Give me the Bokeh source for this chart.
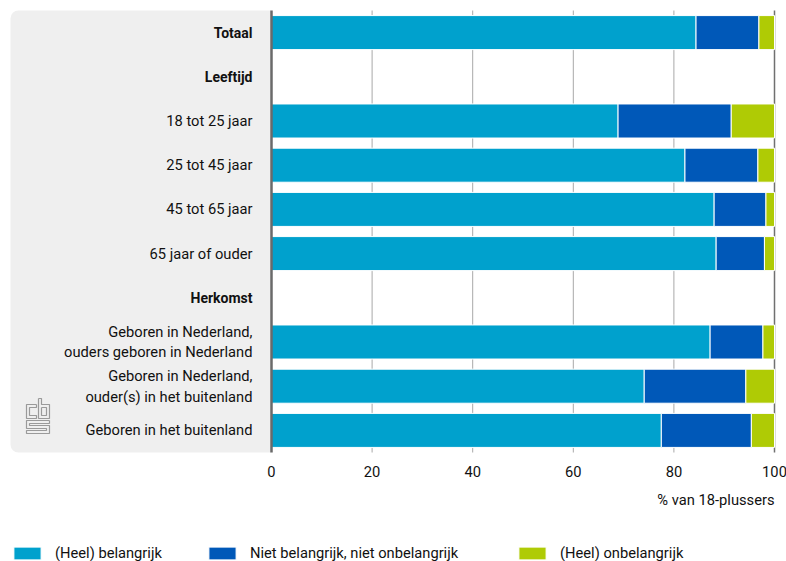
from bokeh.plotting import figure
from bokeh.models import (Range1d, BoxAnnotation, Legend, LegendItem,
                          ColumnDataSource)
from bokeh.core.properties import value
from bokeh.embed import file_html
from bokeh.resources import INLINE

# ---- data ----
categories = ["Totaal", "Leeftijd", "18 tot 25 jaar", "25 tot 45 jaar",
              "45 tot 65 jaar", "65 jaar of ouder", "Herkomst",
              "Geboren in Nederland,\nouders geboren in Nederland",
              "Geboren in Nederland,\nouder(s) in het buitenland",
              "Geboren in het buitenland"]
headings = ["Totaal", "Leeftijd", "Herkomst"]
belangrijk = [84.4, None, 68.9, 82.2, 88.0, 88.4, None, 87.2, 74.1, 77.5]
neutraal = [12.5, None, 22.5, 14.5, 10.3, 9.6, None, 10.5, 20.2, 17.9]
onbelangrijk = [3.1, None, 8.6, 3.3, 1.7, 2.0, None, 2.3, 5.7, 4.6]
series_names = ["(Heel) belangrijk", "Niet belangrijk, niet onbelangrijk",
                "(Heel) onbelangrijk"]
x_ticks = [0, 20, 40, 60, 80, 100]
x_label = "% van 18-plussers"

colors = ["#00a1cd", "#0058b8", "#afcb05"]
FONT = "Roboto"
FS = "14.7px"
TXT = "#111111"

rows = [i for i, v in enumerate(belangrijk) if v is not None]
source = ColumnDataSource(dict(
    y=rows,
    b=[belangrijk[i] for i in rows],
    n=[neutraal[i] for i in rows],
    o=[onbelangrijk[i] for i in rows],
))

# layout geometry (pixels)
W, H = 786, 561
X0_PX, PX_PER_UNIT = 271.0, 5.03        # where 0 % sits, pixels per %
ROW0_PX, ROW_PX = 32.1, 44.2            # centre of first row, row pitch
n_rows = len(categories)

x_start = -X0_PX / PX_PER_UNIT
x_end = (W - X0_PX) / PX_PER_UNIT
y_top = -ROW0_PX / ROW_PX
y_bot = (H - ROW0_PX) / ROW_PX


def px2x(px):
    return (px - X0_PX) / PX_PER_UNIT


def py2y(py):
    return (py - ROW0_PX) / ROW_PX


p = figure(width=W, height=H, output_backend="svg", toolbar_location=None,
           x_range=Range1d(x_start, x_end), y_range=Range1d(y_bot, y_top),
           x_axis_location=None, y_axis_location=None,
           min_border=0, min_border_left=0, min_border_right=0,
           min_border_top=0, min_border_bottom=0)
p.outline_line_color = None
p.background_fill_color = "white"
p.border_fill_color = "white"
p.grid.visible = False

band_top, band_bot = -0.5, n_rows - 0.5

# grey label panel
panel = BoxAnnotation(left=px2x(10), right=0, top=band_top, bottom=band_bot,
                      fill_color="#efefef", fill_alpha=1, line_color=None,
                      level="underlay",
                      border_radius=dict(top_left=8, top_right=0,
                                         bottom_right=0, bottom_left=8))
p.add_layout(panel)

# vertical grid lines (behind bars)
inner = [t for t in x_ticks if 0 < t < x_ticks[-1]]
p.segment(x0=inner, x1=inner, y0=[band_top] * len(inner),
          y1=[band_bot] * len(inner), line_color="#a8a8a8", line_width=1)
p.segment(x0=[x_ticks[-1]], x1=[x_ticks[-1]], y0=[band_top], y1=[band_bot],
          line_color="#707070", line_width=1.5)

renderers = p.hbar_stack(["b", "n", "o"], y="y", height=0.77, source=source,
                         color=colors, line_color="white", line_width=1)

# axis line at 0
p.segment(x0=[x_ticks[0]], x1=[x_ticks[0]], y0=[band_top], y1=[band_bot],
          line_color="#6a6a6a", line_width=2.5)

# category labels
normal_idx = [i for i, c in enumerate(categories) if c not in headings]
bold_idx = [i for i, c in enumerate(categories) if c in headings]
p.text(x=[0] * len(normal_idx), y=normal_idx,
       text=[categories[i] for i in normal_idx], x_offset=-19,
       text_align="right", text_baseline="middle", text_color=TXT,
       text_font=value(FONT), text_font_size=FS, text_line_height=1.15)
p.text(x=[0] * len(bold_idx), y=bold_idx,
       text=[categories[i] for i in bold_idx], x_offset=-19,
       text_align="right", text_baseline="middle", text_color=TXT,
       text_font=value(FONT), text_font_size="14px", text_font_style="bold")

# x tick labels and axis title
p.text(x=x_ticks, y=[py2y(471)] * len(x_ticks),
       text=[str(t) for t in x_ticks], text_align="center",
       text_baseline="middle", text_color=TXT, text_font=value(FONT),
       text_font_size=FS)
p.text(x=[x_ticks[-1]], y=[py2y(499)], text=[x_label], text_align="right",
       text_baseline="middle", text_color=TXT, text_font=value(FONT),
       text_font_size=FS)

# cbs logo (decoration)
logo_paths = [
    [(36, 404), (26, 404), (26, 418), (36, 418), (36, 415), (29, 415),
     (29, 407), (36, 407), (36, 404)],
    [(38, 398), (41, 398), (41, 404), (49, 404), (49, 418), (38, 418),
     (38, 398)],
    [(41, 407), (46, 407), (46, 415), (41, 415), (41, 407)],
    [(49, 420), (26, 420), (26, 428), (46, 428), (46, 430), (26, 430),
     (26, 433), (49, 433), (49, 425), (29, 425), (29, 423), (49, 423),
     (49, 420)],
]
p.multi_line(xs=[[px2x(a) for a, b in path] for path in logo_paths],
             ys=[[py2y(b) for a, b in path] for path in logo_paths],
             line_color="#9a9a9a", line_width=1.2)

# legends (one per series, placed along the bottom edge)
for r, name, lx in zip(renderers, series_names, [10, 205, 515]):
    lg = Legend(items=[LegendItem(label=name, renderers=[r])],
                location=(lx, -1), orientation="horizontal",
                glyph_width=34, glyph_height=16, label_standoff=11,
                padding=0, margin=0, spacing=0, border_line_color=None,
                background_fill_alpha=0, label_text_font=FONT,
                label_text_font_size=FS, label_text_color=TXT)
    p.add_layout(lg, "center")

open("out.html", "w").write(file_html(p, INLINE))
